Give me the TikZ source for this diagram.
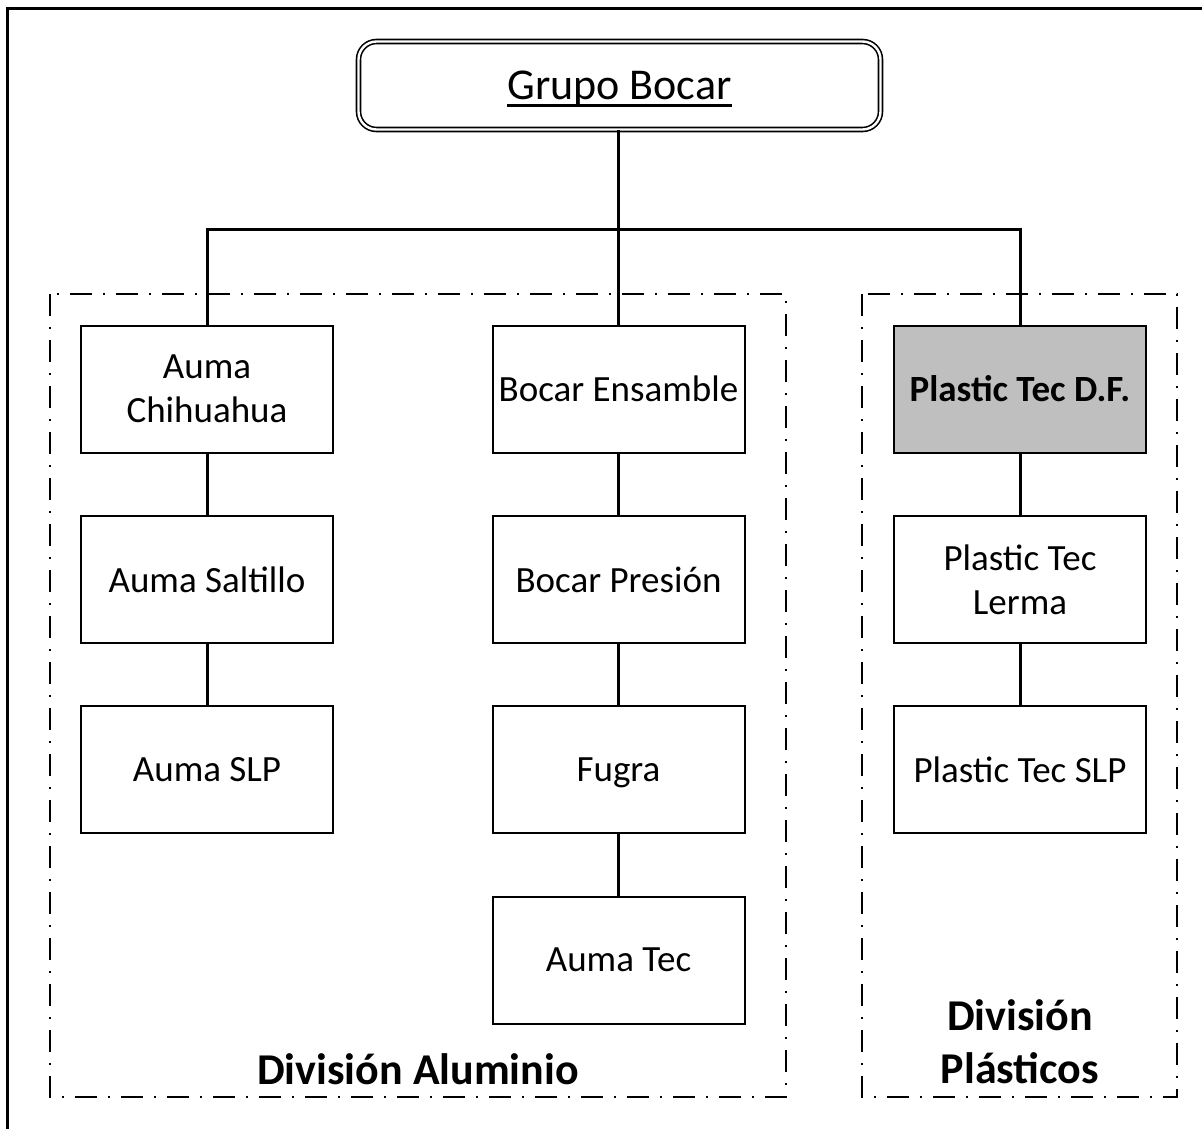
\documentclass[tikz,border=0pt]{standalone}
\usepackage{fontspec}
\setmainfont{Carlito}
\newcommand\myul[1]{\setbox0\hbox{#1}\rlap{\rule[-7pt]{\wd0}{2.6pt}}\box0}
\begin{document}
\begin{tikzpicture}[x=1pt,y=-1pt,
  unit/.style={draw=black,line width=2pt,minimum width=252pt,minimum height=127pt,
    inner sep=0pt,align=center,font=\fontsize{37}{44}\selectfont},
  conn/.style={line width=3pt},
  division/.style={draw=black,line width=2pt,dash pattern=on 22pt off 11pt on 2pt off 11pt},
  divlabel/.style={font=\fontsize{44}{53}\selectfont\bfseries,align=center,inner sep=0pt}]
\useasboundingbox (0,0) rectangle (1202,1128);
\draw[line width=3pt] (7,8.5) rectangle (1215,1140);
% divisions
\draw[division] (50,294) rectangle (786,1097);
\draw[division] (862,294) rectangle (1177,1097);
% top
\node[draw=black,line width=1.6pt,double,double distance=2.4pt,rounded corners=18pt,
  minimum width=522pt,minimum height=88pt,inner sep=0pt,text depth=0pt,
  font=\fontsize{44}{53}\selectfont] (top) at (619.5,85.5) {\myul{Grupo Bocar}};
% boxes
\node[unit] (a1) at (207,389) {Auma\\Chihuahua};
\node[unit] (a2) at (207,579.5) {Auma Saltillo};
\node[unit] (a3) at (207,769.5) {Auma SLP};
\node[unit] (b1) at (618.5,389) {Bocar Ensamble};
\node[unit] (b2) at (618.5,579.5) {Bocar Presión};
\node[unit,text depth=0pt] (b3) at (618.5,769.5) {Fugra};
\node[unit] (b4) at (618.5,960) {Auma Tec};
\node[unit,fill=black!25,font=\fontsize{37}{44}\selectfont\bfseries] (c1) at (1020,389) {Plastic Tec D.F.};
\node[unit] (c2) at (1020,579.5) {Plastic Tec\\Lerma};
\node[unit] (c3) at (1020,769.5) {Plastic Tec SLP};
% connectors
\coordinate (hub) at (618.5,229.5);
\draw[conn] (top.south -| hub) -- (hub);
\draw[conn] (hub) -| (a1.north);
\draw[conn] (hub) -- (b1.north);
\draw[conn] (hub) -| (c1.north);
\draw[conn] (a1) -- (a2);
\draw[conn] (a2) -- (a3);
\draw[conn] (b1) -- (b2);
\draw[conn] (b2) -- (b3);
\draw[conn] (b3) -- (b4);
\draw[conn] (c1) -- (c2);
\draw[conn] (c2) -- (c3);
% labels
\node[divlabel] (la) at (418,1069) {División Aluminio};
\node[divlabel] (lp) at (1020,1042) {División\\Plásticos};
\end{tikzpicture}
\end{document}
